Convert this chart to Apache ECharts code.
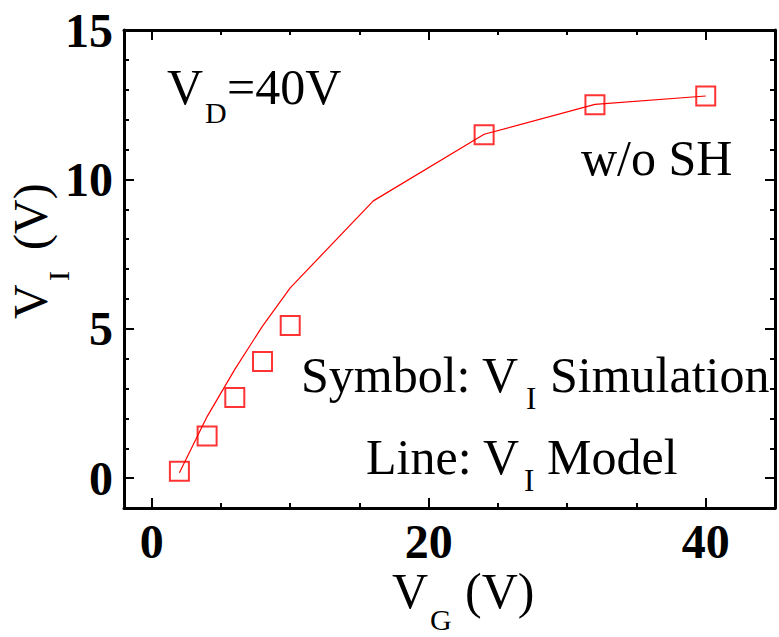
<!DOCTYPE html>
<html>
<head>
<meta charset="utf-8">
<script src="https://cdn.jsdelivr.net/npm/echarts@6/dist/echarts.min.js"></script>
<style>
html,body{margin:0;padding:0;background:#fff;}
#c{width:779px;height:637px;}
</style>
</head>
<body>
<div id="c"></div>
<script>
// Data
const simX = [2, 4, 6, 8, 10, 24, 32, 40];
const simY = [0.23, 1.41, 2.70, 3.90, 5.11, 11.49, 12.50, 12.79];
const modelX = [2, 4, 6, 8, 10, 16, 24, 32, 40];
const modelY = [0.18, 2.06, 3.64, 5.09, 6.37, 9.28, 11.51, 12.51, 12.79];
const xMajorTicks = [0, 20, 40];
const xMinorTicks = [5, 10, 15, 25, 30, 35];
const yMajorTicks = [0, 5, 10, 15];
const yMinorTicks = [1, 2, 3, 4, 6, 7, 8, 9, 11, 12, 13, 14];

const F = "'Times New Roman','Liberation Serif',serif";
const X_MIN = -2, X_MAX = 45, Y_MIN = -1, Y_MAX = 15;

function axis(type, pos, ticks, len, showLine, labels) {
  return {
    type: 'value',
    position: pos,
    min: type === 'x' ? X_MIN : Y_MIN,
    max: type === 'x' ? X_MAX : Y_MAX,
    axisLine: { show: showLine, onZero: false, lineStyle: { color: '#000', width: 3 } },
    axisTick: { show: true, inside: true, length: len, customValues: ticks, lineStyle: { color: '#000', width: 2 } },
    axisLabel: labels ? {
      show: true, customValues: ticks, margin: type === 'x' ? 9 : 11,
      fontSize: 48, fontWeight: 'bold', fontFamily: F, color: '#000'
    } : { show: false },
    splitLine: { show: false },
    minorTick: { show: false },
    z: 5
  };
}

function txt(x, y, s, size, rot) {
  return {
    type: 'text', x: x, y: y, rotation: rot || 0, z: 10,
    style: { text: s, fontSize: size, fontFamily: F, fill: '#000', align: 'left', verticalAlign: 'middle' }
  };
}

const chart = echarts.init(document.getElementById('c'), null, { renderer: 'svg' });
chart.setOption({
  animation: false,
  backgroundColor: '#fff',
  grid: { left: 124, right: 4, top: 30, bottom: 129, containLabel: false },
  xAxis: [
    axis('x', 'bottom', xMajorTicks, 10, true, true),
    axis('x', 'bottom', xMinorTicks, 5, false, false),
    axis('x', 'top', xMajorTicks, 10, true, false),
    axis('x', 'top', xMinorTicks, 5, false, false)
  ],
  yAxis: [
    axis('y', 'left', yMajorTicks, 10, true, true),
    axis('y', 'left', yMinorTicks, 5, false, false),
    axis('y', 'right', yMajorTicks, 10, true, false),
    axis('y', 'right', yMinorTicks, 5, false, false)
  ],
  series: [
    {
      name: 'VI Model', type: 'line', xAxisIndex: 0, yAxisIndex: 0,
      data: modelX.map((x, i) => [x, modelY[i]]),
      showSymbol: false, symbol: 'none',
      lineStyle: { color: '#ff0000', width: 1.2 },
      emphasis: { disabled: true }, silent: true, z: 3
    },
    {
      name: 'VI Simulation', type: 'scatter', xAxisIndex: 0, yAxisIndex: 0,
      data: simX.map((x, i) => [x, simY[i]]),
      symbol: 'rect', symbolSize: 19,
      itemStyle: { color: 'rgba(0,0,0,0)', borderColor: '#ff0000', borderWidth: 2 },
      emphasis: { disabled: true }, silent: true, z: 4
    }
  ],
  graphic: [
    // V_D=40V
    txt(167, 86.5, 'V', 50),
    txt(205, 112.5, 'D', 30),
    txt(227, 86.5, '=40V', 50),
    // w/o SH
    txt(581, 157.5, 'w/o SH', 50),
    // Symbol: V_I Simulation
    txt(301, 374.5, 'Symbol: V', 50),
    txt(526, 398.5, 'I', 31),
    txt(550, 374.5, 'Simulation', 50),
    // Line: V_I Model
    txt(366, 456.9, 'Line: V', 50),
    txt(524, 480.5, 'I', 31),
    txt(547, 456.9, 'Model', 50),
    // x axis title V_G (V)
    txt(392, 591.3, 'V', 50),
    txt(430, 619, 'G', 30),
    txt(465, 591.3, '(V)', 50),
    // y axis title V_I (V), rotated
    txt(30.5, 319, 'V', 48, Math.PI / 2),
    txt(58, 281, 'I', 30, Math.PI / 2),
    txt(30, 250, '(V)', 48, Math.PI / 2)
  ]
});
</script>
</body>
</html>
